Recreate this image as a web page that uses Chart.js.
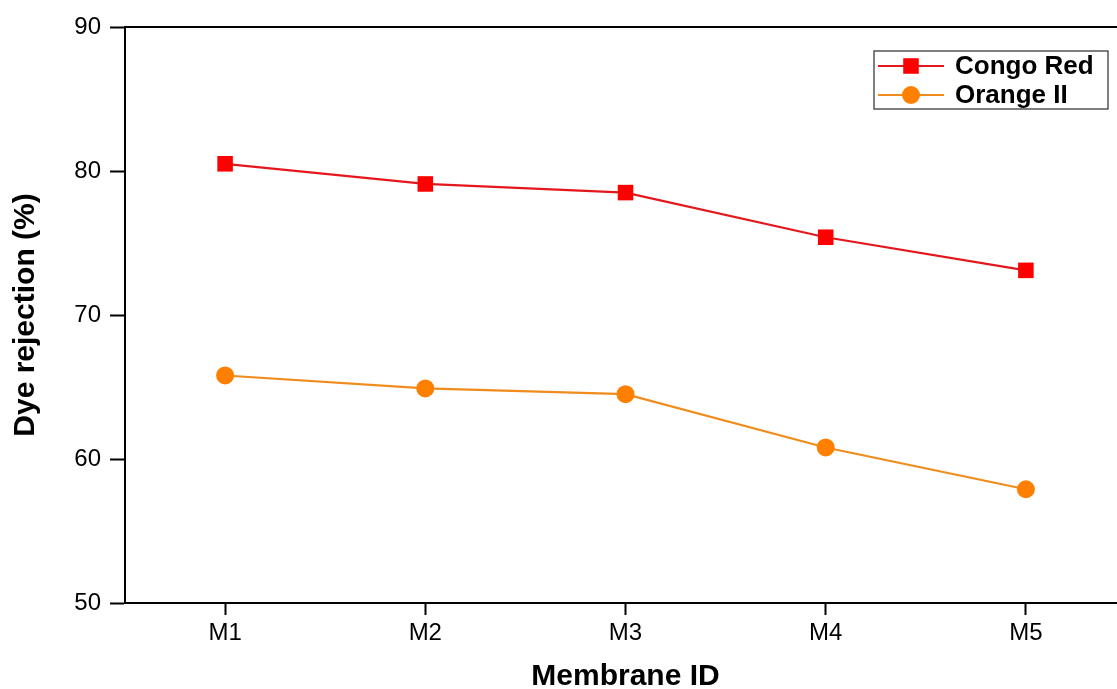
<!DOCTYPE html>
<html>
<head>
<meta charset="utf-8">
<script src="https://cdn.jsdelivr.net/npm/chart.js@4/dist/chart.umd.min.js"></script>
<style>
  html, body { margin: 0; padding: 0; background: #fff; overflow: hidden; }
  #wrap { position: absolute; left: 0; top: 0; width: 1128px; height: 689px; }
  #dyeChart { width: 1128px; height: 689px; }
</style>
</head>
<body>
<div id="wrap"><canvas id="dyeChart" width="1128" height="689"></canvas></div>
<script>
// values
var membranes = ['M1', 'M2', 'M3', 'M4', 'M5'];
var congoRed = [80.5, 79.1, 78.5, 75.4, 73.1];
var orangeII = [65.8, 64.9, 64.5, 60.8, 57.9];
var yTicks = [50, 60, 70, 80, 90];

var FONT = '"Liberation Sans", Arial, sans-serif';

// legend box drawn inside the plot, like the original
var insideLegend = {
	id: 'insideLegend',
	afterDraw: function(chart){
		var ctx = chart.ctx;
		var area = chart.chartArea;
		var x0 = area.right - 252, y0 = 51, w = 234, h = 58;

		ctx.save();
		// top frame line
		ctx.strokeStyle = '#000';
		ctx.lineWidth = 2;
		ctx.beginPath();
		ctx.moveTo(area.left, area.top);
		ctx.lineTo(area.right, area.top);
		ctx.stroke();

		ctx.fillStyle = '#fff';
		ctx.fillRect(x0, y0, w, h);
		ctx.strokeStyle = '#555';
		ctx.lineWidth = 1.5;
		ctx.strokeRect(x0, y0, w, h);

		var ds = chart.data.datasets;
		for (var i = 0; i < ds.length; i++){
			var yy = y0 + 15 + i * 29;
			ctx.strokeStyle = ds[i].borderColor;
			ctx.lineWidth = 2;
			ctx.beginPath();
			ctx.moveTo(x0 + 4, yy);
			ctx.lineTo(x0 + 70, yy);
			ctx.stroke();
			ctx.fillStyle = ds[i].pointBackgroundColor;
			Chart.helpers.drawPoint(ctx, {pointStyle: ds[i].pointStyle, radius: ds[i].pointRadius, rotation: 0, borderWidth: 0}, x0 + 37, yy);
			ctx.fillStyle = '#000';
			ctx.font = 'bold 26px ' + FONT;
			ctx.textBaseline = 'middle';
			ctx.textAlign = 'left';
			ctx.fillText(ds[i].label, x0 + 81, yy + 1);
		}
		ctx.restore();
	}
};

var ctx = document.getElementById('dyeChart').getContext('2d');
var myChart = new Chart(ctx, {
	type: 'line',
	data: {
		labels: membranes,
		datasets: [
			{
				label: 'Congo Red',
				data: congoRed,
				borderColor: '#e3171c',
				borderWidth: 2.2,
				pointStyle: 'rect',
				pointRadius: 11,
				pointBackgroundColor: '#ff0000',
				pointBorderWidth: 0,
				tension: 0
			},
			{
				label: 'Orange II',
				data: orangeII,
				borderColor: '#f08c1c',
				borderWidth: 2.2,
				pointStyle: 'circle',
				pointRadius: 9,
				pointBackgroundColor: '#ff8000',
				pointBorderWidth: 0,
				tension: 0
			}
		]
	},
	options: {
		responsive: false,
		animation: false,
		devicePixelRatio: 1,
		layout: { autoPadding: false, padding: { top: 27, right: 2, left: 0, bottom: 0 } },
		plugins: {
			legend: { display: false },
			tooltip: { enabled: false }
		},
		scales: {
			x: {
				type: 'category',
				offset: true,
				grid: { display: true, drawOnChartArea: false, offset: false, tickLength: 12, tickWidth: 2, tickColor: '#000' },
				border: { display: true, color: '#000', width: 2 },
				ticks: { color: '#000', padding: 4, font: { family: FONT, size: 24 } },
				title: { display: true, text: 'Membrane ID', color: '#000', padding: 0, font: { family: FONT, size: 30, weight: 'bold', lineHeight: 0.8 } },
				afterFit: function(scale){ scale.height = 86; }
			},
			y: {
				min: 50,
				max: 90,
				afterBuildTicks: function(scale){ scale.ticks = yTicks.map(function(v){ return {value: v}; }); },
				grid: { display: true, drawOnChartArea: false, tickLength: 15, tickWidth: 2, tickColor: '#000' },
				border: { display: true, color: '#000', width: 2 },
				ticks: { color: '#000', padding: 9, font: { family: FONT, size: 24 } },
				title: { display: true, text: 'Dye rejection (%)', color: '#000', padding: { top: 8, bottom: 0 }, font: { family: FONT, size: 30, weight: 'bold', lineHeight: 1.2 } },
				afterFit: function(scale){ scale.width = 125; }
			}
		}
	},
	plugins: [insideLegend]
});
</script>
</body>
</html>
